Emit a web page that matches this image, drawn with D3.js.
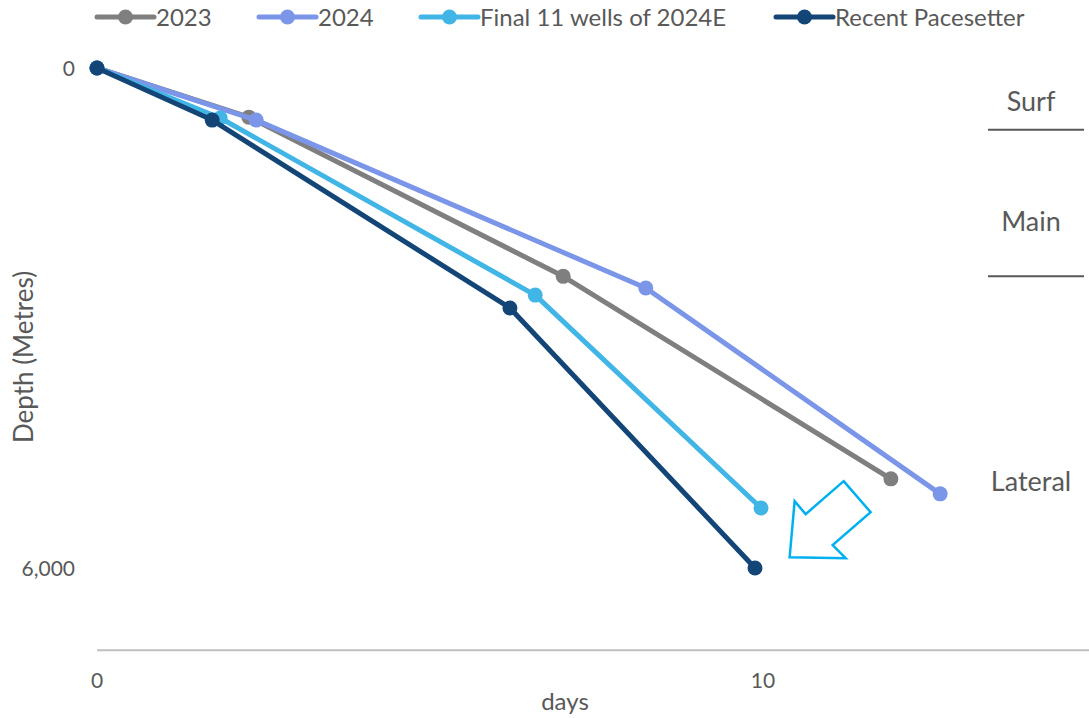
<!DOCTYPE html>
<html>
<head>
<meta charset="utf-8">
<script src="https://cdn.jsdelivr.net/npm/d3@7"></script>
<style>
  html, body { margin: 0; padding: 0; background: #fff; }
  svg { display: block; }
  text { font-family: Lato, "Open Sans", sans-serif; fill: #595959; }
</style>
</head>
<body>
<svg id="chart" width="1089" height="718"></svg>
<script>
// ---- Data ----
const seriesNames = ["2023", "2024", "Final 11 wells of 2024E", "Recent Pacesetter"];
const seriesColors = ["#7f7f7f", "#7b96e8", "#41b6e6", "#134677"];
const days2023 = [0, 2.28, 7.0, 11.92];
const depth2023 = [0, 590, 2500, 4930];
const days2024 = [0, 2.39, 8.24, 12.66];
const depth2024 = [0, 625, 2640, 5110];
const daysFinal = [0, 1.85, 6.58, 9.97];
const depthFinal = [0, 600, 2725, 5280];
const daysPace = [0, 1.73, 6.2, 9.88];
const depthPace = [0, 625, 2880, 6000];
const xTicks = [0, 10];
const yTicks = [0, 6000];
const zoneLabels = ["Surf", "Main", "Lateral"];
const zoneLabelDepth = [400, 1840, 4950];
const zoneBoundaryDepth = [740, 2500];

const series = [
  { name: seriesNames[0], color: seriesColors[0], pts: days2023.map((d, i) => [d, depth2023[i]]) },
  { name: seriesNames[1], color: seriesColors[1], pts: days2024.map((d, i) => [d, depth2024[i]]) },
  { name: seriesNames[2], color: seriesColors[2], pts: daysFinal.map((d, i) => [d, depthFinal[i]]) },
  { name: seriesNames[3], color: seriesColors[3], pts: daysPace.map((d, i) => [d, depthPace[i]]) }
];

// ---- Scales ----
const svg = d3.select("#chart");
const x = d3.scaleLinear().domain([0, 10]).range([97, 763]);
const y = d3.scaleLinear().domain([0, 6000]).range([68, 568]);
const axisY = y(7000) - 1;

// x axis line
svg.append("line")
  .attr("x1", x(0)).attr("x2", 1089)
  .attr("y1", axisY).attr("y2", axisY)
  .attr("stroke", "#bfbfbf").attr("stroke-width", 2);

// x tick labels
svg.selectAll(".xt").data(xTicks).enter().append("text")
  .attr("x", d => x(d)).attr("y", 688)
  .attr("text-anchor", "middle")
  .attr("font-size", 21)
  .text(d => d3.format(",")(d));

// y tick labels
svg.selectAll(".yt").data(yTicks).enter().append("text")
  .attr("x", 75).attr("y", d => y(d) + 8)
  .attr("text-anchor", "end")
  .attr("font-size", 21)
  .text(d => d3.format(",")(d));

// axis titles
svg.append("text")
  .attr("x", 565).attr("y", 710)
  .attr("text-anchor", "middle")
  .attr("font-size", 24)
  .text("days");
svg.append("text")
  .attr("transform", "translate(33,357) rotate(-90)")
  .attr("text-anchor", "middle")
  .attr("font-size", 26)
  .text("Depth (Metres)");

// zone annotations
svg.selectAll(".zl").data(zoneLabels).enter().append("text")
  .attr("x", 1031).attr("y", (d, i) => y(zoneLabelDepth[i]) + 10)
  .attr("text-anchor", "middle")
  .attr("font-size", 27)
  .text(d => d);
svg.selectAll(".zb").data(zoneBoundaryDepth).enter().append("line")
  .attr("x1", 988).attr("x2", 1084)
  .attr("y1", d => y(d)).attr("y2", d => y(d))
  .attr("stroke", "#595959").attr("stroke-width", 2);

// lines
const line = d3.line().x(d => x(d[0])).y(d => y(d[1]));
const g = svg.selectAll(".series").data(series).enter().append("g");
g.append("path")
  .attr("d", d => line(d.pts))
  .attr("fill", "none")
  .attr("stroke", d => d.color)
  .attr("stroke-width", 5)
  .attr("stroke-linejoin", "round");
g.selectAll("circle").data(d => d.pts.map(p => ({ p, color: d.color }))).enter().append("circle")
  .attr("cx", d => x(d.p[0])).attr("cy", d => y(d.p[1]))
  .attr("r", 7.5)
  .attr("fill", d => d.color);

// arrow annotation (outlined, pointing down-left)
const arrowAnchor = [10.4, 5990];
const ax = x(arrowAnchor[0]), ay = y(arrowAnchor[1]);
const arrowShape = [[54, -86], [81, -55], [43, -22], [56, -9], [0, -10], [5, -66], [16, -53]];
svg.append("polygon")
  .attr("points", arrowShape.map(p => [ax + p[0], ay + p[1]].join(",")).join(" "))
  .attr("fill", "#fff")
  .attr("stroke", "#00b0f0")
  .attr("stroke-width", 2.5)
  .attr("stroke-linejoin", "miter");

// legend
const legendX = [97, 259, 421, 776];
const lg = svg.selectAll(".lg").data(series).enter().append("g")
  .attr("transform", (d, i) => `translate(${legendX[i]},17)`);
lg.append("line").attr("x1", 0).attr("x2", 57).attr("y1", 0).attr("y2", 0)
  .attr("stroke", d => d.color).attr("stroke-width", 5).attr("stroke-linecap", "round");
lg.append("circle").attr("cx", 28.5).attr("cy", 0).attr("r", 7.5).attr("fill", d => d.color);
lg.append("text").attr("x", 59).attr("y", 8.5)
  .attr("font-size", 24)
  .text(d => d.name);
</script>
</body>
</html>
